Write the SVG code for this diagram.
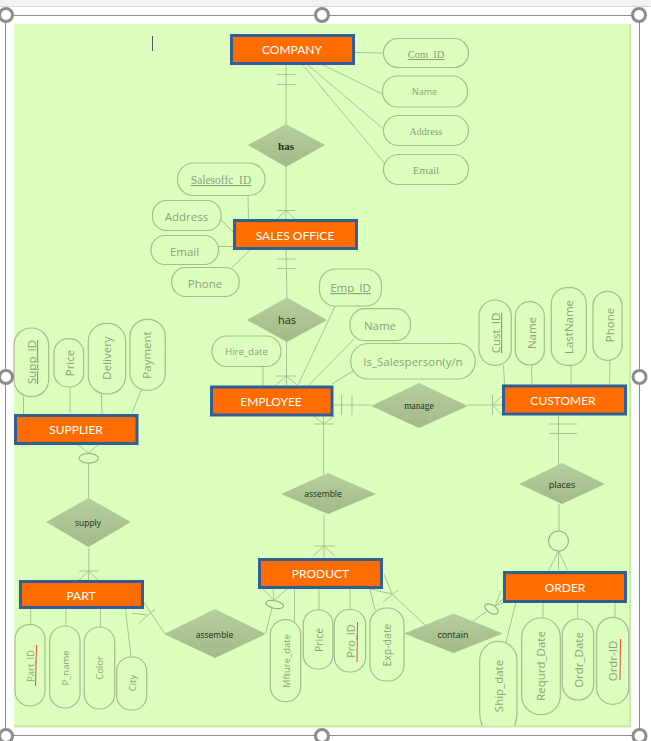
<svg xmlns="http://www.w3.org/2000/svg" width="651" height="741" viewBox="0 0 651 741">
<defs>
<linearGradient id="dg" x1="0" y1="0" x2="0" y2="1"><stop offset="0" stop-color="#b6cf9c"/><stop offset="1" stop-color="#a3ba88"/></linearGradient>
</defs>
<style>
.e{fill:#ff6d00;stroke:#2f5f96;stroke-width:3}
.et{font-family:Lato,"Liberation Sans",sans-serif;font-size:12px;fill:#fff;text-anchor:middle}
.p{fill:#dcffbd;stroke:#a5bd8d;stroke-width:1.2}
.t{font-family:"Open Sans","Liberation Sans",sans-serif;font-size:11.500px;fill:#8a9f7c;text-anchor:middle}
.s{font-family:"Liberation Serif",serif;font-size:11px;fill:#8a9f7c;text-anchor:middle}
.d{fill:url(#dg)}
.dt{font-family:"Open Sans","Liberation Sans",sans-serif;font-size:9px;fill:#1f2a18;text-anchor:middle}
.ds{font-family:"Liberation Serif",serif;font-size:11px;font-weight:bold;fill:#26301f;text-anchor:middle}
.c line,.c path,.c ellipse,.c circle{stroke:#a9c394;stroke-width:1;fill:none}
.c ellipse,.c circle{stroke:#94ad7e;stroke-width:1.1}
.h{fill:#fff;stroke:#8c8c8c;stroke-width:3}
.u{text-decoration:underline}
</style>
<rect width="651" height="741" fill="#fff"/>
<rect width="651" height="6" fill="#f3f3f1"/>
<line x1="0" y1="6.500" x2="651" y2="6.500" stroke="#d6d6d4"/>
<rect x="14" y="24" width="617" height="703.500" fill="#c9eaa8"/>
<rect x="14" y="24" width="615" height="701" fill="#dcffbd"/>
<g id="frame" fill="none" stroke="#8c8c8c" stroke-width="1">
<rect x="5.500" y="15.500" width="634" height="720"/>
</g>
<line id="cursor" x1="152.500" y1="36" x2="152.500" y2="51" stroke="#555" stroke-width="1"/>

<g id="connectors" class="c">
<line x1="286" y1="65" x2="286" y2="124"/><line x1="277" y1="74.500" x2="295.500" y2="74.500"/><line x1="277" y1="84.500" x2="295.500" y2="84.500"/>
<line x1="355" y1="52.500" x2="383.500" y2="53"/><line x1="323" y1="65" x2="382.500" y2="94"/><line x1="308" y1="65" x2="383.500" y2="129"/><line x1="303" y1="65" x2="386" y2="165"/>
<line x1="286" y1="167" x2="286" y2="219"/><line x1="277" y1="210.500" x2="295.500" y2="210.500"/><path d="M277 219L286 210.500L295 219"/>
<line x1="248" y1="195.500" x2="248.500" y2="219"/><line x1="221" y1="220" x2="233" y2="232"/><line x1="218.500" y1="246.500" x2="233" y2="246.500"/><line x1="232" y1="267.500" x2="250" y2="250"/>
<line x1="286" y1="250" x2="287" y2="298"/><line x1="277" y1="259" x2="295.500" y2="259"/><line x1="277" y1="268.500" x2="295.500" y2="268.500"/>
<line x1="286.500" y1="341.500" x2="286.500" y2="385"/><line x1="276" y1="376" x2="296" y2="376"/><path d="M276 385L286.500 376L297 385"/>
<line x1="263" y1="366.500" x2="263" y2="385"/><line x1="335" y1="306.500" x2="298" y2="385"/><line x1="354" y1="339" x2="309" y2="385"/><line x1="353" y1="371" x2="332" y2="384"/>
<line x1="334" y1="405" x2="371" y2="405"/><line x1="341.500" y1="395" x2="341.500" y2="415"/><line x1="352" y1="395" x2="352" y2="415"/>
<line x1="468" y1="405" x2="502" y2="405"/><line x1="492.500" y1="395" x2="492.500" y2="415"/><path d="M502 396L492.500 405L502 415"/>
<line x1="503.500" y1="365" x2="504.500" y2="385"/><line x1="531.500" y1="365" x2="532" y2="385"/><line x1="571" y1="365" x2="571" y2="385"/><line x1="610" y1="360" x2="609.500" y2="385"/>
<line x1="558.500" y1="415" x2="558.500" y2="472"/><line x1="549.500" y1="424" x2="577" y2="424"/><line x1="549.500" y1="433.500" x2="577" y2="433.500"/>
<line x1="559" y1="504" x2="559" y2="531"/><line x1="558.500" y1="551" x2="558.500" y2="570"/><path d="M549 570L558.500 551L567.500 570"/><circle cx="558.500" cy="541" r="10"/>
<line x1="323.500" y1="416" x2="323.500" y2="474"/><line x1="314" y1="424" x2="334" y2="424"/><path d="M314 416L323.500 424L334 416"/>
<line x1="324" y1="514" x2="324" y2="558"/><line x1="314" y1="546" x2="335" y2="546"/><path d="M313 556L324 546L335 556"/>
<line x1="23.500" y1="396" x2="23.500" y2="414"/><line x1="70" y1="387" x2="70" y2="413"/><line x1="101.500" y1="394" x2="102" y2="414"/><line x1="142" y1="388" x2="132" y2="413"/>
<line x1="88.500" y1="463.500" x2="88.500" y2="498"/><path d="M76 443L88.500 453L100 443"/><ellipse cx="88.700" cy="458.300" rx="9.700" ry="4.800"/>
<line x1="89" y1="548" x2="88.500" y2="580"/><line x1="79" y1="571" x2="98.500" y2="571"/><path d="M79 580L88.500 571L98 580"/>
<line x1="30.700" y1="609" x2="30.700" y2="624"/><line x1="66" y1="609" x2="66" y2="626"/><line x1="100.500" y1="609" x2="100.500" y2="627"/><line x1="125.500" y1="609" x2="131" y2="657"/>
<line x1="143" y1="601" x2="165" y2="634"/><line x1="132" y1="613" x2="147" y2="615"/><line x1="139" y1="623" x2="155" y2="609"/>
<line x1="265.700" y1="633" x2="272" y2="608"/><ellipse cx="274.700" cy="604.500" rx="9" ry="3.800" transform="rotate(12 274.700 604.500)"/><path d="M263 589L274 600.500L287 589M273 589L274 600.500"/>
<line x1="294.500" y1="589" x2="294.500" y2="622"/><line x1="319" y1="589" x2="319" y2="610"/><line x1="350" y1="589" x2="350" y2="609"/><line x1="370" y1="589" x2="375" y2="610"/>
<path d="M384 574L392 594L370 589"/><line x1="392" y1="594" x2="425" y2="625"/><line x1="383" y1="602" x2="398" y2="590"/>
<line x1="473" y1="621" x2="486" y2="612"/><ellipse cx="491.500" cy="609" rx="7.500" ry="4" transform="rotate(30 491.500 609)"/><path d="M501 591L495 606L503 599M495 606L503 603"/>
<line x1="515.700" y1="603" x2="506" y2="642.500"/><line x1="543" y1="603" x2="543" y2="618"/><line x1="577.700" y1="603" x2="577.700" y2="619"/><line x1="615" y1="603" x2="615" y2="618"/>
</g>

<g id="company"><rect class="e" x="231.500" y="35.500" width="122" height="28"/><text class="et" x="292" y="54">COMPANY</text></g>
<g id="sales-office"><rect class="e" x="234.500" y="220.500" width="122" height="28"/><text class="et" x="295" y="240">SALES OFFICE</text></g>
<g id="employee"><rect class="e" x="211.500" y="387" width="120.500" height="28"/><text class="et" x="271" y="406">EMPLOYEE</text></g>
<g id="supplier"><rect class="e" x="15.500" y="415.500" width="121.500" height="28"/><text class="et" x="76" y="434">SUPPLIER</text></g>
<g id="customer"><rect class="e" x="503.500" y="386" width="122" height="28"/><text class="et" x="563" y="405">CUSTOMER</text></g>
<g id="part"><rect class="e" x="20.500" y="581.500" width="122" height="26"/><text class="et" x="81" y="600">PART</text></g>
<g id="product"><rect class="e" x="259.500" y="559.500" width="122" height="28"/><text class="et" x="320.500" y="578">PRODUCT</text></g>
<g id="order"><rect class="e" x="504.500" y="572.500" width="121" height="29"/><text class="et" x="565" y="592">ORDER</text></g>

<g id="has1"><polygon class="d" points="248,145 286,124 325,145 286,167"/><text class="ds" x="286" y="149.500">has</text></g>
<g id="has2"><polygon class="d" points="247,320 287,297.500 327,320 287,342"/><text class="dt" style="font-size:11px" x="287" y="324">has</text></g>
<g id="manage"><polygon class="d" points="371,406 419,383 468,406 419,428"/><text class="ds" style="font-size:9.500px;font-weight:normal" x="419" y="409">manage</text></g>
<g id="places"><polygon class="d" points="519,484 562,463 605,484 562,504"/><text class="dt" x="562" y="488">places</text></g>
<g id="assemble1"><polygon class="d" points="281,494 328,473 376,494 328,514"/><text class="dt" style="font-size:8.500px" x="323" y="497">assemble</text></g>
<g id="supply"><polygon class="d" points="46,522 88.500,498 131,522 88.500,547"/><text class="dt" style="font-size:8.500px" x="88" y="526">supply</text></g>
<g id="assemble2"><polygon class="d" points="164,634 215,609 266,634 215,658"/><text class="dt" style="font-size:8.500px" x="214.500" y="637.500">assemble</text></g>
<g id="contain"><polygon class="d" points="404,633.500 453.500,613.500 503,633.500 453.500,653"/><text class="dt" x="453" y="638">contain</text></g>

<g id="attr-com-id"><rect class="p" x="383.500" y="38.500" width="85" height="29" rx="14.500"/><text class="s u" style="font-size:10.500px" x="426" y="58">Com_ID</text></g>
<g id="attr-com-name"><rect class="p" x="382.500" y="76" width="85" height="31" rx="15"/><text class="t" style="font-size:9px" x="424.500" y="95">Name</text></g>
<g id="attr-com-address"><rect class="p" x="383.500" y="115.500" width="85" height="30" rx="15"/><text class="s" style="font-size:10px" x="426" y="134.500">Address</text></g>
<g id="attr-com-email"><rect class="p" x="383.500" y="154.500" width="85" height="30" rx="15"/><text class="s" x="426" y="174">Email</text></g>
<g id="attr-salesoffc-id"><rect class="p" x="177.500" y="163" width="87.500" height="32.500" rx="16"/><text class="s u" style="font-size:11.500px" x="221" y="184">Salesoffc_ID</text></g>
<g id="attr-so-address"><rect class="p" x="152.500" y="200.500" width="68.500" height="30" rx="14"/><text class="t" x="186.500" y="221">Address</text></g>
<g id="attr-so-email"><rect class="p" x="151" y="235.500" width="67.500" height="29" rx="14"/><text class="t" x="184.500" y="256">Email</text></g>
<g id="attr-so-phone"><rect class="p" x="171.700" y="267.500" width="67.500" height="29" rx="14"/><text class="t" x="205" y="288">Phone</text></g>
<g id="attr-hire-date"><rect class="p" x="212" y="336" width="69" height="30.500" rx="15"/><text class="t" style="font-size:9.500px" x="246.500" y="355">Hire_date</text></g>
<g id="attr-emp-id"><rect class="p" x="319.500" y="269" width="62" height="37" rx="16"/><text class="t u" x="350.500" y="292">Emp_ID</text></g>
<g id="attr-emp-name"><rect class="p" x="350" y="308.700" width="60.500" height="32" rx="15"/><text class="t" x="380" y="330">Name</text></g>
<g id="attr-is-sales"><rect class="p" x="350.700" y="343.500" width="124.500" height="35.500" rx="17.500"/><text class="t" x="413" y="366">Is_Salesperson(y/n</text></g>

<g id="attr-cust-id"><rect class="p" x="479" y="300" width="32.300" height="65.300" rx="16"/><text class="t u" transform="translate(500 333) rotate(-90)">Cust_ID</text></g>
<g id="attr-cust-name"><rect class="p" x="515.300" y="301.700" width="29" height="63.300" rx="14.500"/><text class="t" transform="translate(536 333) rotate(-90)">Name</text></g>
<g id="attr-lastname"><rect class="p" x="551.300" y="287.700" width="35" height="77.600" rx="16"/><text class="t" transform="translate(573 327) rotate(-90)">LastName</text></g>
<g id="attr-phone"><rect class="p" x="593" y="291.300" width="29" height="69" rx="14.500"/><text class="t" transform="translate(614 325) rotate(-90)">Phone</text></g>

<g id="attr-supp-id"><rect class="p" x="14" y="328" width="34.700" height="68.700" rx="17"/><text class="t u" transform="translate(36 362) rotate(-90)">Supp_ID</text></g>
<g id="attr-sup-price"><rect class="p" x="54" y="338.700" width="29.700" height="48.300" rx="14"/><text class="t" transform="translate(74 363) rotate(-90)">Price</text></g>
<g id="attr-delivery"><rect class="p" x="88.300" y="323.300" width="37.400" height="70.700" rx="18"/><text class="t" transform="translate(110.500 358) rotate(-90)">Delivery</text></g>
<g id="attr-payment"><rect class="p" x="130" y="319.300" width="35.300" height="71" rx="17"/><text class="t" transform="translate(151 355) rotate(-90)">Payment</text></g>

<g id="attr-part-id"><rect class="p" x="15" y="624.300" width="30" height="81.700" rx="15"/><text class="t" style="font-size:9.500px" transform="translate(34 666) rotate(-90)">Part_ID</text><line x1="36.500" y1="645" x2="35.500" y2="686" stroke="#e2533a" stroke-width="1"/></g>
<g id="attr-p-name"><rect class="p" x="49.700" y="626" width="30.300" height="82" rx="15"/><text class="t" style="font-size:9.500px" transform="translate(69 668) rotate(-90)">P_name</text></g>
<g id="attr-color"><rect class="p" x="84.300" y="627" width="30.400" height="82" rx="15"/><text class="t" style="font-size:9.500px" transform="translate(103 668) rotate(-90)">Color</text></g>
<g id="attr-city"><rect class="p" x="116.700" y="657" width="30" height="53" rx="14"/><text class="t" style="font-size:9.500px" transform="translate(136 683) rotate(-90)">City</text></g>

<g id="attr-mfture"><rect class="p" x="270.300" y="619.700" width="30.400" height="82" rx="15"/><text class="t" style="font-size:9.500px" transform="translate(289.500 661) rotate(-90)">Mfture_date</text></g>
<g id="attr-pro-price"><rect class="p" x="303.300" y="610" width="29.700" height="59" rx="14"/><text class="t" style="font-size:10.500px" transform="translate(323 640) rotate(-90)">Price</text></g>
<g id="attr-pro-id"><rect class="p" x="334.300" y="609.500" width="31.400" height="62.500" rx="15"/><text class="t" style="font-size:11px" transform="translate(355 641) rotate(-90)">Pro_ID</text><line x1="357.500" y1="622" x2="357" y2="662" stroke="#e2533a" stroke-width="1"/></g>
<g id="attr-exp-date"><rect class="p" x="370" y="608" width="34" height="73" rx="16"/><text class="t" style="font-size:10.500px" transform="translate(391 645) rotate(-90)">Exp-date</text></g>

<g id="attr-ship-date"><path class="p" d="M482 725.500Q479.700 720 479.700 712V660A18.600 18.600 0 0 1 517 660V712Q517 720 514.500 725.500"/><text class="t" transform="translate(503 686) rotate(-90)">Ship_date</text></g>
<g id="attr-requrd"><rect class="p" x="521.700" y="618" width="38.600" height="96.700" rx="19"/><text class="t" transform="translate(545 666) rotate(-90)">Requrd_Date</text></g>
<g id="attr-ordr-date"><rect class="p" x="562.300" y="619" width="31.400" height="81" rx="15.500"/><text class="t" transform="translate(583 660) rotate(-90)">Ordr_Date</text></g>
<g id="attr-ordr-id"><rect class="p" x="596.700" y="617.300" width="32" height="87" rx="16"/><text class="t" transform="translate(617 661) rotate(-90)">Ordr-ID</text><line x1="620.500" y1="639" x2="620" y2="680" stroke="#e2533a" stroke-width="1"/></g>

<g id="handles">
<circle class="h" cx="6" cy="15" r="6.500"/><circle class="h" cx="322" cy="15" r="6.500"/><circle class="h" cx="639" cy="15" r="6.500"/>
<circle class="h" cx="6" cy="377" r="6.500"/><circle class="h" cx="639.500" cy="377" r="6.500"/>
<circle class="h" cx="6" cy="736" r="6.500"/><circle class="h" cx="322" cy="736" r="6.500"/><circle class="h" cx="639.500" cy="736" r="6.500"/>
</g>
</svg>
